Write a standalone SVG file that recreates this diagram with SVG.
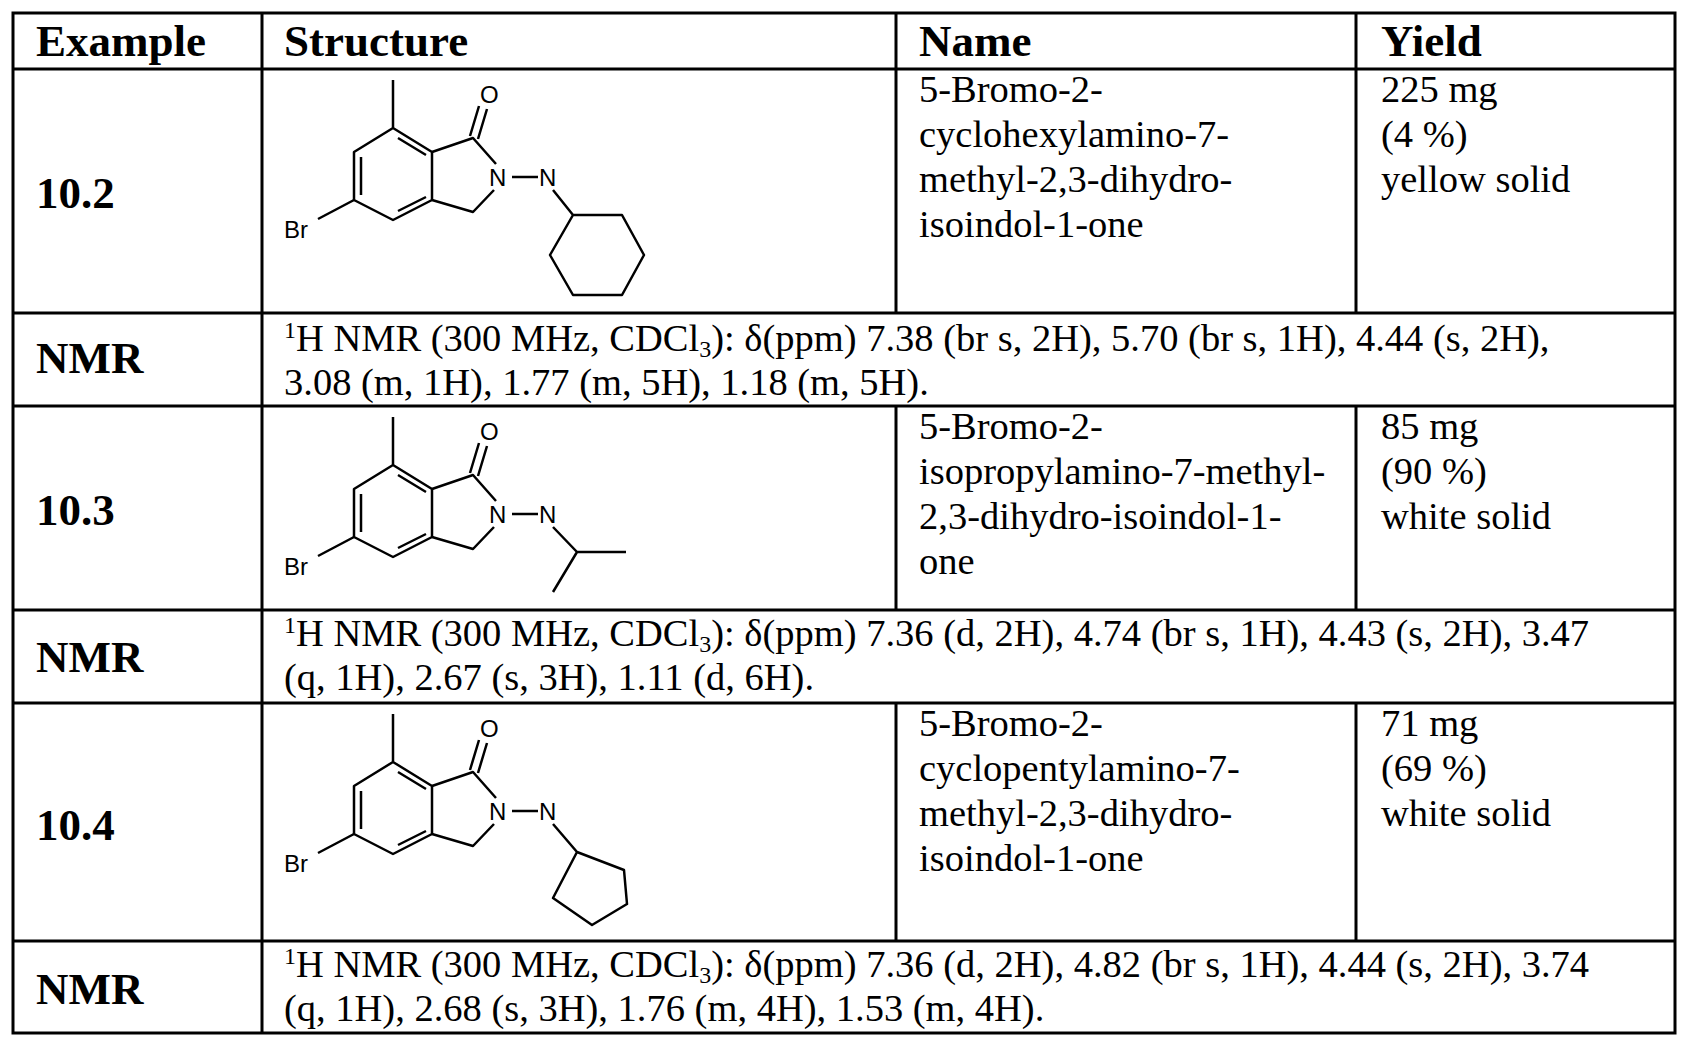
<svg xmlns="http://www.w3.org/2000/svg" width="1687" height="1047" viewBox="0 0 1687 1047">
<style>
.g{stroke:#000;stroke-width:3;fill:none}
.b{stroke:#000;stroke-width:2.5;fill:none;stroke-linejoin:round}
.h{font-family:"Liberation Serif",serif;font-weight:bold;font-size:45px}
.t{font-family:"Liberation Serif",serif;font-size:38.5px}
.a{font-family:"Liberation Sans",sans-serif;font-size:24px}
</style>
<defs>
<g id="core">
<path class="b" d="M393,128 L432,152 L432,200 L393,220 L354,200 L354,152 Z M393,80 L393,128"/>
<path class="b" d="M361,157 L361,195 M398,138 L426,155 M398,211 L426,197"/>
<path class="b" d="M432,152 L473,138 L496,164 M432,200 L473,212 L494,190 M318,219 L354,200"/>
<path class="b" d="M470,136 L479,106 M478,139 L487,109"/>
<text class="a" x="480" y="103">O</text>
<text class="a" x="489" y="186">N</text>
<text class="a" x="284" y="238">Br</text>
</g>
</defs>
<g id="table">
<rect class="g" x="13" y="13" width="1662" height="1020"/>
<path class="g" d="M13,69 H1675 M13,313 H1675 M13,406 H1675 M13,610 H1675 M13,703 H1675 M13,941 H1675 M262,13 V1033 M896,13 V313 M896,406 V610 M896,703 V941 M1356,13 V313 M1356,406 V610 M1356,703 V941"/>
</g>
<g id="header">
<text class="h" x="36" y="56">Example</text>
<text class="h" x="284" y="56">Structure</text>
<text class="h" x="919" y="56">Name</text>
<text class="h" x="1381" y="56">Yield</text>
</g>
<g id="row-10-2">
<text class="h" x="36" y="208">10.2</text>
<use href="#core"/>
<path class="b" d="M512,177 L538,177 M553,190 L573,215 M573,215 L622,215 L644,255 L622,295 L573,295 L550,255 Z"/>
<text class="a" x="539" y="186">N</text>
<text class="t" x="919" y="102">5-Bromo-2-</text>
<text class="t" x="919" y="147">cyclohexylamino-7-</text>
<text class="t" x="919" y="192">methyl-2,3-dihydro-</text>
<text class="t" x="919" y="237">isoindol-1-one</text>
<text class="t" x="1381" y="102">225 mg</text>
<text class="t" x="1381" y="147">(4 %)</text>
<text class="t" x="1381" y="192">yellow solid</text>
<text class="h" x="36" y="373">NMR</text>
<text class="t" x="284" y="351"><tspan font-size="24" dy="-13">1</tspan><tspan dy="13">H NMR (300 MHz, CDCl</tspan><tspan font-size="24" dy="6">3</tspan><tspan dy="-6">): δ(ppm) 7.38 (br s, 2H), 5.70 (br s, 1H), 4.44 (s, 2H),</tspan></text>
<text class="t" x="284" y="395">3.08 (m, 1H), 1.77 (m, 5H), 1.18 (m, 5H).</text>
</g>
<g id="row-10-3">
<text class="h" x="36" y="525">10.3</text>
<use href="#core" y="337"/>
<path class="b" d="M512,514 L538,514 M553,527 L577,552 L626,552 M577,552 L553,592"/>
<text class="a" x="539" y="523">N</text>
<text class="t" x="919" y="439">5-Bromo-2-</text>
<text class="t" x="919" y="484">isopropylamino-7-methyl-</text>
<text class="t" x="919" y="529">2,3-dihydro-isoindol-1-</text>
<text class="t" x="919" y="574">one</text>
<text class="t" x="1381" y="439">85 mg</text>
<text class="t" x="1381" y="484">(90 %)</text>
<text class="t" x="1381" y="529">white solid</text>
<text class="h" x="36" y="672">NMR</text>
<text class="t" x="284" y="646"><tspan font-size="24" dy="-13">1</tspan><tspan dy="13">H NMR (300 MHz, CDCl</tspan><tspan font-size="24" dy="6">3</tspan><tspan dy="-6">): δ(ppm) 7.36 (d, 2H), 4.74 (br s, 1H), 4.43 (s, 2H), 3.47</tspan></text>
<text class="t" x="284" y="690">(q, 1H), 2.67 (s, 3H), 1.11 (d, 6H).</text>
</g>
<g id="row-10-4">
<text class="h" x="36" y="840">10.4</text>
<use href="#core" y="634"/>
<path class="b" d="M512,811 L538,811 M553,824 L577,852 M577,852 L624,870 L627,904 L592,925 L553,898 Z"/>
<text class="a" x="539" y="820">N</text>
<text class="t" x="919" y="736">5-Bromo-2-</text>
<text class="t" x="919" y="781">cyclopentylamino-7-</text>
<text class="t" x="919" y="826">methyl-2,3-dihydro-</text>
<text class="t" x="919" y="871">isoindol-1-one</text>
<text class="t" x="1381" y="736">71 mg</text>
<text class="t" x="1381" y="781">(69 %)</text>
<text class="t" x="1381" y="826">white solid</text>
<text class="h" x="36" y="1004">NMR</text>
<text class="t" x="284" y="977"><tspan font-size="24" dy="-13">1</tspan><tspan dy="13">H NMR (300 MHz, CDCl</tspan><tspan font-size="24" dy="6">3</tspan><tspan dy="-6">): δ(ppm) 7.36 (d, 2H), 4.82 (br s, 1H), 4.44 (s, 2H), 3.74</tspan></text>
<text class="t" x="284" y="1021">(q, 1H), 2.68 (s, 3H), 1.76 (m, 4H), 1.53 (m, 4H).</text>
</g>
</svg>
